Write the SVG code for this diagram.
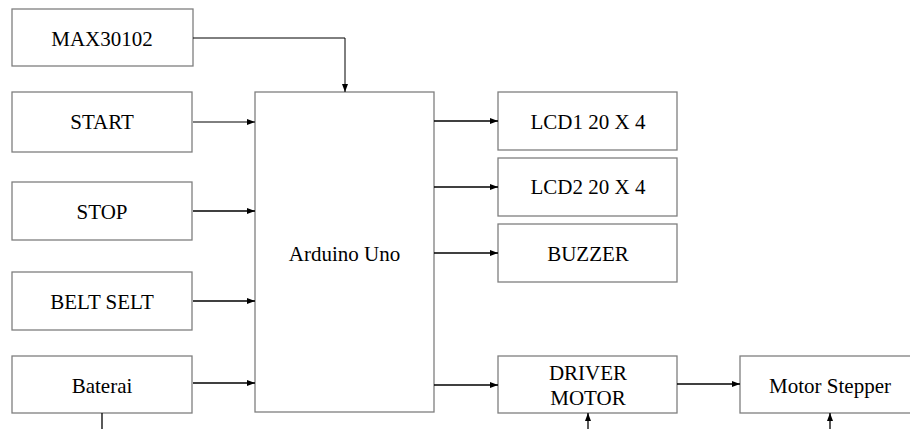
<svg xmlns="http://www.w3.org/2000/svg" width="910" height="429" viewBox="0 0 910 429">
<defs>
<marker id="ah" markerWidth="8" markerHeight="6" refX="8" refY="3" orient="auto" markerUnits="userSpaceOnUse">
<path d="M0,0 L8,3 L0,6 Z" fill="#000"/>
</marker>
<style>
.box{fill:#fff;stroke:#7f7f7f;stroke-width:1.3}
.c{fill:none;stroke:#000;stroke-width:1.3}
.thin{stroke-width:1}
</style>
</defs>
<rect width="910" height="429" fill="#fff"/>
<g id="max30102"><rect class="box" x="12" y="9" width="181" height="57"/><text x="102" y="46" font-family="Liberation Serif" font-size="21" text-anchor="middle">MAX30102</text></g>
<g id="start"><rect class="box" x="12" y="92" width="180" height="60"/><text x="102" y="129" font-family="Liberation Serif" font-size="21" text-anchor="middle">START</text></g>
<g id="stop"><rect class="box" x="12" y="182" width="180" height="58"/><text x="102" y="219" font-family="Liberation Serif" font-size="21" text-anchor="middle">STOP</text></g>
<g id="belt"><rect class="box" x="12" y="272" width="180" height="58"/><text x="102" y="309" font-family="Liberation Serif" font-size="21" text-anchor="middle">BELT SELT</text></g>
<g id="baterai"><rect class="box" x="12" y="356" width="180" height="57"/><text x="102" y="392.5" font-family="Liberation Serif" font-size="21" text-anchor="middle">Baterai</text></g>
<g id="arduino"><rect class="box" x="255" y="92" width="179" height="320"/><text x="344.5" y="261" font-family="Liberation Serif" font-size="21" text-anchor="middle">Arduino Uno</text></g>
<g id="lcd1"><rect class="box" x="498" y="92" width="179" height="58"/><text x="588" y="128.5" font-family="Liberation Serif" font-size="21" text-anchor="middle">LCD1 20 X 4</text></g>
<g id="lcd2"><rect class="box" x="498" y="158" width="179" height="58"/><text x="588" y="194" font-family="Liberation Serif" font-size="21" text-anchor="middle">LCD2 20 X 4</text></g>
<g id="buzzer"><rect class="box" x="498" y="224" width="179" height="58"/><text x="588" y="261" font-family="Liberation Serif" font-size="21" text-anchor="middle">BUZZER</text></g>
<g id="driver"><rect class="box" x="498" y="356" width="179" height="57"/><text x="588" y="380" font-family="Liberation Serif" font-size="21" text-anchor="middle">DRIVER</text><text x="588" y="405" font-family="Liberation Serif" font-size="21" text-anchor="middle">MOTOR</text></g>
<g id="stepper"><rect class="box" x="740" y="356" width="180" height="57"/><text x="830" y="393" font-family="Liberation Serif" font-size="21" text-anchor="middle">Motor Stepper</text></g>
<g id="connectors">
<path class="c thin" d="M193,38 H345 V92" marker-end="url(#ah)"/>
<path class="c thin" d="M193,122 H255" marker-end="url(#ah)"/>
<path class="c" d="M193,211 H255" marker-end="url(#ah)"/>
<path class="c" d="M193,301 H255" marker-end="url(#ah)"/>
<path class="c" d="M193,383 H255" marker-end="url(#ah)"/>
<path class="c" d="M102,413 V429"/>
<path class="c" d="M434,121 H498" marker-end="url(#ah)"/>
<path class="c" d="M434,187 H498" marker-end="url(#ah)"/>
<path class="c" d="M434,253 H498" marker-end="url(#ah)"/>
<path class="c" d="M434,385 H498" marker-end="url(#ah)"/>
<path class="c" d="M677,384 H740" marker-end="url(#ah)"/>
<path class="c" d="M588,429 V413" marker-end="url(#ah)"/>
<path class="c" d="M830,429 V413" marker-end="url(#ah)"/>
</g>
</svg>
